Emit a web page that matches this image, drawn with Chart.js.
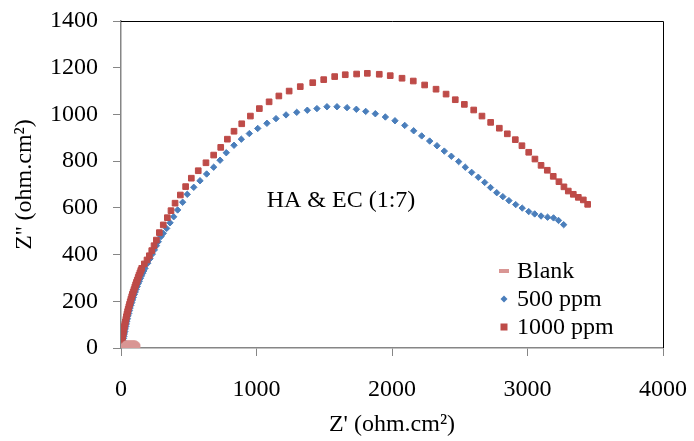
<!DOCTYPE html>
<html>
<head>
<meta charset="utf-8">
<script src="https://cdn.jsdelivr.net/npm/chart.js@4"></script>
<style>
  html, body { margin: 0; padding: 0; background: #fff; }
  canvas { display: block; }
</style>
</head>
<body>
<canvas id="nyquist" width="694" height="441"></canvas>
<script>
// Nyquist plot - HA & EC (1:7)

const seriesNames = ['Blank', '500 ppm', '1000 ppm'];

const blankX = [30, 40, 50, 60, 70, 80, 90, 98, 104, 106];
const blankY = [5, 10, 15, 18, 20, 19, 16, 12, 7, 3];

const ppm500X = [8, 10, 12, 15, 18, 21, 24, 28, 31, 35, 39, 43, 47, 52, 57, 62, 67, 73, 79, 85,
  91, 98, 105, 112, 119, 127, 135, 143, 151, 160, 168,
  177, 197, 214, 231, 246, 261, 275, 295, 312, 337, 362, 389, 418, 455, 489, 537,
  583, 632, 684, 731, 777, 834, 888, 947, 1009, 1077, 1144, 1218, 1297, 1375, 1446,
  1520, 1594, 1668, 1737, 1806, 1877, 1951, 2022, 2094, 2160, 2219, 2278, 2332,
  2386, 2438, 2492, 2541, 2588, 2637, 2684, 2727, 2773, 2818, 2863, 2913, 2961,
  3009, 3053, 3100, 3148, 3192, 3229, 3267];
const ppm500Y = [10, 18, 25, 32, 41, 50, 60, 70, 81, 92, 103, 114, 125, 137, 148, 160, 171, 183, 194, 206,
  217, 229, 240, 252, 263, 275, 286, 298, 309, 320, 330,
  341, 363, 382, 402, 420, 438, 455, 477, 491, 512, 536, 562, 591, 624, 658, 688,
  716, 745, 774, 804, 836, 868, 894, 918, 940, 962, 982, 998, 1009, 1018, 1025,
  1033, 1033, 1029, 1022, 1013, 1003, 989, 973, 953, 930, 908, 886, 866,
  843, 821, 798, 774, 752, 731, 709, 687, 665, 648, 631, 614, 599,
  584, 574, 565, 560, 557, 546, 528];

const ppm1000X = [5, 7, 9, 12, 15, 18, 21, 25, 28, 32, 36, 40, 44, 49, 53, 58, 63, 68, 73, 79, 84, 90,
  96, 102, 108, 114, 120, 127, 133, 140, 146,
  153, 172, 192, 209, 227, 244, 261, 283, 312, 342, 369, 399, 438, 477, 519, 570,
  627, 684, 736, 785, 834, 891, 955, 1021, 1093, 1165, 1241, 1323, 1415, 1496, 1577,
  1655, 1739, 1818, 1906, 1987, 2074, 2157, 2241, 2325, 2399, 2467, 2534, 2603,
  2664, 2728, 2792, 2851, 2910, 2959, 3009, 3055, 3100, 3146, 3190, 3232, 3269,
  3301, 3338, 3375, 3412, 3444];
const ppm1000Y = [20, 30, 40, 50, 60, 70, 81, 92, 102, 112, 123, 134, 145, 156, 166, 177, 187, 198, 209, 220, 230, 240,
  250, 261, 271, 281, 291, 302, 312, 322, 332,
  341, 360, 377, 395, 417, 438, 462, 494, 527, 558, 588, 620, 655, 691, 727, 759,
  793, 826, 859, 894, 928, 960, 993, 1025, 1054, 1079, 1100, 1119, 1136, 1149, 1162,
  1170, 1173, 1176, 1172, 1166, 1155, 1143, 1126, 1108, 1087, 1063, 1043, 1019,
  993, 966, 941, 917, 892, 866, 838, 809, 782, 761, 735, 712, 690,
  672, 658, 645, 634, 615];

const xMin = 0, xMax = 4000, xStep = 1000;
const yMin = 0, yMax = 1400, yStep = 200;
const xTitle = "Z' (ohm.cm²)";
const yTitle = "Z'' (ohm.cm²)";
const noteText = 'HA & EC (1:7)';

const SERIF = "'Liberation Serif', 'Times New Roman', serif";
const AXIS_GREY = '#868686';
const COLORS = ['#d99694', '#4a7ebb', '#be4b48'];

const toPoints = (xs, ys) => xs.map((x, i) => ({ x, y: ys[i] }));

// plot frame (black top/right edges), note text and legend
const decorations = {
    id: 'decorations',
    afterDraw(chart) {
        const { ctx, chartArea: a } = chart;
        ctx.save();
        ctx.strokeStyle = '#000';
        ctx.lineWidth = 1;
        ctx.beginPath();
        ctx.moveTo(a.left, a.top + 0.5);
        ctx.lineTo(a.right + 0.5, a.top + 0.5);
        ctx.lineTo(a.right + 0.5, a.bottom);
        ctx.stroke();

        ctx.fillStyle = '#000';
        ctx.font = `24px ${SERIF}`;
        ctx.textAlign = 'center';
        ctx.textBaseline = 'middle';
        ctx.fillText(noteText, 341, 201);

        // legend
        const mx = 504, tx = 517;
        const rows = [271, 299, 327];
        ctx.textAlign = 'left';
        seriesNames.forEach((name, i) => {
            const y = rows[i];
            ctx.fillStyle = COLORS[i];
            if (i === 0) {
                ctx.fillRect(mx - 5, y - 2, 10, 4);
            } else if (i === 1) {
                ctx.beginPath();
                ctx.moveTo(mx - 3.5, y); ctx.lineTo(mx, y - 3.5);
                ctx.lineTo(mx + 3.5, y); ctx.lineTo(mx, y + 3.5);
                ctx.closePath(); ctx.fill();
            } else {
                ctx.fillRect(mx - 3.5, y - 3.5, 7, 7);
            }
            ctx.fillStyle = '#000';
            ctx.fillText(name, tx, y + 1);
        });
        ctx.restore();
    }
};

const plainTick = v => String(v);

new Chart(document.getElementById('nyquist'), {
    type: 'scatter',
    data: {
        datasets: [
            { label: seriesNames[0], data: toPoints(blankX, blankY), order: 0,
              pointStyle: 'line', pointRadius: 5, pointBorderWidth: 6,
              borderColor: COLORS[0], backgroundColor: COLORS[0] },
            { label: seriesNames[1], data: toPoints(ppm500X, ppm500Y), order: 2,
              pointStyle: 'rectRot', pointRadius: 3.2, pointBorderWidth: 1,
              borderColor: COLORS[1], backgroundColor: COLORS[1] },
            { label: seriesNames[2], data: toPoints(ppm1000X, ppm1000Y), order: 1,
              pointStyle: 'rect', pointRadius: 4, pointBorderWidth: 1,
              borderColor: COLORS[2], backgroundColor: COLORS[2] }
        ]
    },
    options: {
        responsive: false,
        animation: false,
        layout: { padding: { left: 0, right: 31, top: 21, bottom: 0 } },
        plugins: { legend: { display: false }, tooltip: { enabled: false } },
        scales: {
            x: {
                type: 'linear', min: xMin, max: xMax,
                ticks: { stepSize: xStep, color: '#000', padding: 19, callback: plainTick,
                         font: { family: SERIF, size: 24 } },
                grid: { drawOnChartArea: false, drawTicks: true, tickLength: 8, color: AXIS_GREY },
                border: { color: AXIS_GREY, width: 1.5 },
                title: { display: true, text: xTitle, color: '#000', padding: { top: 0, bottom: 2 },
                         font: { family: SERIF, size: 24 } },
                afterFit(scale) {
                    scale.height = 93;
                    scale.paddingLeft = 0;
                    scale.paddingRight = 0;
                }
            },
            y: {
                type: 'linear', min: yMin, max: yMax,
                ticks: { stepSize: yStep, color: '#000', padding: 15, callback: plainTick,
                         font: { family: SERIF, size: 24 } },
                grid: { drawOnChartArea: false, drawTicks: true, tickLength: 8, color: AXIS_GREY },
                border: { color: AXIS_GREY, width: 1.5 },
                title: { display: true, text: yTitle, color: '#000', padding: { top: 10, bottom: 0 },
                         font: { family: SERIF, size: 24 } },
                afterFit(scale) {
                    scale.width = 121;
                    scale.paddingTop = 0;
                    scale.paddingBottom = 0;
                }
            }
        }
    },
    plugins: [decorations]
});
</script>
</body>
</html>
